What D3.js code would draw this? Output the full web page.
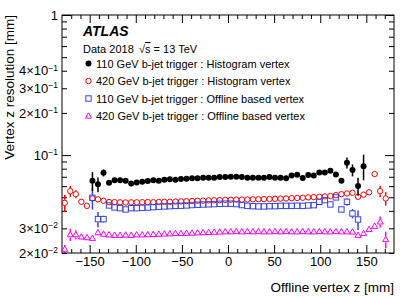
<!DOCTYPE html>
<html>
<head>
<meta charset="utf-8">
<script src="https://cdn.jsdelivr.net/npm/d3@7"></script>
<style>
  body { margin: 0; background: #fff; }
  text { font-family: "Liberation Sans", Arial, sans-serif; fill: #000; }
</style>
</head>
<body>
<script>
// bin centres of offline vertex z [mm]
const zBins = [-177,-171,-165,-159,-153,-147,-141,-135,-129,-123,-117,-111,-105,-99,-93,-87,-81,-75,-69,-63,
  -57,-51,-45,-39,-33,-27,-21,-15,-9,-3,3,9,15,21,27,33,39,45,51,57,
  63,69,75,81,87,93,99,105,111,117,123,129,135,141,147,153,159,165,171,177];

// 110 GeV b-jet trigger : Histogram vertex
const hist110 = [null,null,null,null,null, 0.0655,0.0618,0.0747,0.0634,0.0660,
  0.0660,0.0655,0.0628,0.0638,0.0645, 0.0652,0.0660,0.0655,0.0666,0.0671,
  0.0666,0.0674,0.0678,0.0682,0.0682, 0.0689,0.0689,0.0689,0.0697,0.0697,
  0.0700,0.0700,0.0697,0.0689,0.0689, 0.0689,0.0689,0.0697,0.0689,0.0689,
  0.0682,0.0716,0.0723,0.0685,0.0720, 0.0716,0.0752,0.0752,0.0772,0.0728,
  0.0655,0.0881,0.0781,0.0601,0.0834, null,null,null,null,null];
const hist110Err = [null,null,null,null,null, 0.010,0.0075,0.0043,0.002,0.0012,
  0.0012,0.0012,0.0012,0.0012,0.0012, 0.0012,0.0012,0.0012,0.0012,0.0012,
  0.0012,0.0012,0.0012,0.0012,0.0012, 0.0012,0.0012,0.0012,0.0012,0.0012,
  0.0012,0.0012,0.0012,0.0012,0.0012, 0.0012,0.0012,0.0012,0.0012,0.0012,
  0.0012,0.0015,0.0015,0.0015,0.0015, 0.0015,0.002,0.002,0.002,0.002,
  0.002,0.008,0.0077,0.0088,0.0173, null,null,null,null,null];

// 420 GeV b-jet trigger : Histogram vertex
const hist420 = [0.0456,0.0553,0.0526,0.0464,0.0434, 0.0490,0.0483,0.0472,0.0462,0.0462,
  0.0460,0.0459,0.0460,0.0460,0.0461, 0.0462,0.0461,0.0463,0.0464,0.0464,
  0.0466,0.0467,0.0469,0.0470,0.0472, 0.0473,0.0475,0.0476,0.0477,0.0479,
  0.0480,0.0481,0.0481,0.0482,0.0483, 0.0484,0.0485,0.0486,0.0487,0.0489,
  0.0490,0.0492,0.0494,0.0496,0.0499, 0.0501,0.0504,0.0507,0.0510,0.0518,
  0.0526,0.0532,0.0538,0.0504,0.0522, 0.0542,0.0732,0.0553,0.0490,null];
const hist420Err = [0.0063,0.005,0.0035,0.0015,0.0015, 0.001,0.001,0.001,0.001,0.001,
  0.001,0.001,0.001,0.001,0.001, 0.001,0.001,0.001,0.001,0.001,
  0.001,0.001,0.001,0.001,0.001, 0.001,0.001,0.001,0.001,0.001,
  0.001,0.001,0.001,0.001,0.001, 0.001,0.001,0.001,0.001,0.001,
  0.001,0.001,0.001,0.001,0.001, 0.001,0.001,0.001,0.001,0.001,
  0.001,0.0012,0.0012,0.0015,0.0015, 0.0015,0.002,0.005,0.0054,null];

// 110 GeV b-jet trigger : Offline based vertex
const offl110 = [null,null,null,null,null, 0.0495,0.0349,0.0349,0.0437,0.0423,
  0.0418,0.0409,0.0418,0.0418,0.0420, 0.0422,0.0425,0.0428,0.0430,0.0432,
  0.0434,0.0435,0.0437,0.0440,0.0442, 0.0444,0.0445,0.0447,0.0449,0.0450,
  0.0450,0.0447,0.0440,0.0434,0.0432, 0.0430,0.0430,0.0432,0.0432,0.0434,
  0.0434,0.0434,0.0435,0.0434,0.0437, 0.0439,0.0464,0.0477,0.0444,0.0499,
  0.0409,0.0464,0.0383,0.0347, null,null,null,null,null,null];
const offl110Err = [null,null,null,null,null, 0.0087,0.0043,0.002,0.001,0.001,
  0.001,0.001,0.001,0.001,0.001, 0.001,0.001,0.001,0.001,0.001,
  0.001,0.001,0.001,0.001,0.001, 0.001,0.001,0.001,0.001,0.001,
  0.001,0.001,0.001,0.001,0.001, 0.001,0.001,0.001,0.001,0.001,
  0.001,0.001,0.001,0.001,0.001, 0.001,0.0012,0.0012,0.0015,0.002,
  0.002,0.003,0.003,0.0055, null,null,null,null,null,null];

// 420 GeV b-jet trigger : Offline based vertex
const offl420 = [0.0213,0.0271,0.0271,0.0261,0.0258, 0.0255,0.0280,0.0273,0.0270,0.0268,
  0.0268,0.0269,0.0268,0.0270,0.0270, 0.0271,0.0272,0.0273,0.0274,0.0275,
  0.0276,0.0276,0.0277,0.0278,0.0279, 0.0280,0.0281,0.0282,0.0283,0.0284,
  0.0284,0.0285,0.0284,0.0285,0.0284, 0.0285,0.0284,0.0284,0.0285,0.0284,
  0.0285,0.0284,0.0284,0.0285,0.0284, 0.0284,0.0285,0.0284,0.0284,0.0285,
  0.0284,0.0284,0.0283,0.0268,0.0276, 0.0295,0.0311,0.0334,0.0250,null];
const offl420Err = [0.0015,0.0027,0.002,0.0012,0.0008, 0.0008,0.0008,0.0008,0.0008,0.0008,
  0.0008,0.0008,0.0008,0.0008,0.0008, 0.0008,0.0008,0.0008,0.0008,0.0008,
  0.0008,0.0008,0.0008,0.0008,0.0008, 0.0008,0.0008,0.0008,0.0008,0.0008,
  0.0008,0.0008,0.0008,0.0008,0.0008, 0.0008,0.0008,0.0008,0.0008,0.0008,
  0.0008,0.0008,0.0008,0.0008,0.0008, 0.0008,0.0008,0.0008,0.0008,0.0008,
  0.0008,0.0008,0.0008,0.0008,0.0008, 0.0008,0.0015,0.003,0.0034,null];

const legendLabels = [
  "110 GeV b-jet trigger : Histogram vertex",
  "420 GeV b-jet trigger : Histogram vertex",
  "110 GeV b-jet trigger : Offline based vertex",
  "420 GeV b-jet trigger : Offline based vertex"
];

const xMajor = [-150, -100, -50, 0, 50, 100, 150];
const xMinor = [-170,-160,-140,-130,-120,-110,-90,-80,-70,-60,-40,-30,-20,-10,10,20,30,40,60,70,80,90,110,120,130,140,160,170];
const yMajor = [1, 0.1];
const yMinor = [0.9,0.8,0.7,0.6,0.5,0.4,0.3,0.2,0.09,0.08,0.07,0.06,0.05,0.04,0.03,0.02];
const yLabelled = [1, 0.4, 0.3, 0.2, 0.1, 0.03, 0.02];

const W = 415, H = 298;
const L = 62, R = 394, T = 15, B = 253;

const svg = d3.select("body").append("svg")
  .attr("width", W).attr("height", H);

const x = d3.scaleLinear().domain([-180, 180]).range([L, R]);
const y = d3.scaleLog().domain([0.02, 1]).range([B, T]);

// axes (ticks pointing inward, ROOT style)
function styleAxis(g) {
  g.select(".domain").remove();
  g.selectAll(".tick line").attr("stroke", "#000");
  g.selectAll("text").attr("font-size", 13).attr("fill", "#000")
    .attr("font-family", "Liberation Sans, Arial, sans-serif");
}

svg.append("g").attr("transform", `translate(0,${B})`)
  .call(d3.axisBottom(x).tickValues(xMajor).tickSizeInner(-8).tickSizeOuter(0).tickPadding(4))
  .call(styleAxis);
svg.append("g").attr("transform", `translate(0,${B})`)
  .call(d3.axisBottom(x).tickValues(xMinor).tickSizeInner(-4).tickSizeOuter(0).tickFormat(""))
  .call(styleAxis);
svg.append("g").attr("transform", `translate(0,${T})`)
  .call(d3.axisTop(x).tickValues(xMajor).tickSizeInner(-8).tickSizeOuter(0).tickFormat(""))
  .call(styleAxis);
svg.append("g").attr("transform", `translate(0,${T})`)
  .call(d3.axisTop(x).tickValues(xMinor).tickSizeInner(-4).tickSizeOuter(0).tickFormat(""))
  .call(styleAxis);

svg.append("g").attr("transform", `translate(${L},0)`)
  .call(d3.axisLeft(y).tickValues(yMajor).tickSizeInner(-9).tickSizeOuter(0).tickFormat(""))
  .call(styleAxis);
svg.append("g").attr("transform", `translate(${L},0)`)
  .call(d3.axisLeft(y).tickValues(yMinor).tickSizeInner(-5).tickSizeOuter(0).tickFormat(""))
  .call(styleAxis);
svg.append("g").attr("transform", `translate(${R},0)`)
  .call(d3.axisRight(y).tickValues(yMajor).tickSizeInner(-9).tickSizeOuter(0).tickFormat(""))
  .call(styleAxis);
svg.append("g").attr("transform", `translate(${R},0)`)
  .call(d3.axisRight(y).tickValues(yMinor).tickSizeInner(-5).tickSizeOuter(0).tickFormat(""))
  .call(styleAxis);

// y labels with superscript exponents
const yLab = svg.append("g").attr("transform", `translate(${L},0)`)
  .call(d3.axisLeft(y).tickValues(yLabelled).tickSize(0).tickPadding(4).tickFormat(""))
  .call(styleAxis);
yLab.selectAll(".tick text").each(function(d) {
  const t = d3.select(this);
  const e = Math.floor(Math.log10(d) + 1e-9);
  const m = Math.round(d / Math.pow(10, e));
  t.text(null);
  if (e === 0) { t.append("tspan").text("1"); return; }
  t.append("tspan").text(m === 1 ? "10" : m + "\u00d710");
  t.append("tspan").attr("font-size", 8.5).attr("dy", "-0.55em").text("\u2212" + (-e));
});

// frame
svg.append("rect").attr("x", L).attr("y", T).attr("width", R - L).attr("height", B - T)
  .attr("fill", "none").attr("stroke", "#000").attr("stroke-width", 1);

// axis titles
svg.append("text").attr("x", R).attr("y", 292).attr("text-anchor", "end")
  .attr("font-size", 13.5).text("Offline vertex z [mm]");
svg.append("text").attr("transform", `translate(14,${T}) rotate(-90)`)
  .attr("text-anchor", "end").attr("font-size", 13.5).text("Vertex z resolution [mm]");

// markers
const markerDefs = [
  { vals: hist420, err: hist420Err, color: "#ff0000", shape: "ocircle", gap: 3 },
  { vals: offl110, err: offl110Err, color: "#3344ee", shape: "osquare", gap: 3 },
  { vals: offl420, err: offl420Err, color: "#ff00ff", shape: "otriangle", gap: 3 },
  { vals: hist110, err: hist110Err, color: "#000000", shape: "fcircle", gap: 0 }
];

function drawMarker(g, shape, color, cx, cy) {
  if (shape === "fcircle") {
    g.append("circle").attr("cx", cx).attr("cy", cy).attr("r", 3).attr("fill", color);
  } else if (shape === "ocircle") {
    g.append("circle").attr("cx", cx).attr("cy", cy).attr("r", 2.7)
      .attr("fill", "none").attr("stroke", color).attr("stroke-width", 1);
  } else if (shape === "osquare") {
    g.append("rect").attr("x", cx - 2.7).attr("y", cy - 2.7).attr("width", 5.4).attr("height", 5.4)
      .attr("fill", "none").attr("stroke", color).attr("stroke-width", 1);
  } else {
    g.append("path").attr("d", `M${cx},${cy - 3.2}L${cx + 3},${cy + 2.2}L${cx - 3},${cy + 2.2}Z`)
      .attr("fill", "none").attr("stroke", color).attr("stroke-width", 1);
  }
}

const plot = svg.append("g");
markerDefs.forEach(s => {
  const g = plot.append("g");
  const pts = zBins.map((z, i) => ({ z, v: s.vals[i], e: s.err[i] })).filter(p => p.v != null);
  pts.forEach(p => {
    const cx = x(p.z), cy = y(p.v);
    const y1 = y(p.v + p.e), y2 = y(Math.max(p.v - p.e, 0.0201));
    if (cy - y1 > s.gap) g.append("line").attr("x1", cx).attr("x2", cx).attr("y1", y1).attr("y2", cy - s.gap)
      .attr("stroke", s.color).attr("stroke-width", 1.5);
    if (y2 - cy > s.gap) g.append("line").attr("x1", cx).attr("x2", cx).attr("y1", cy + s.gap).attr("y2", y2)
      .attr("stroke", s.color).attr("stroke-width", 1.5);
    drawMarker(g, s.shape, s.color, cx, cy);
  });
});

// ATLAS label and legend
svg.append("text").attr("x", 83).attr("y", 36).attr("font-size", 14)
  .attr("font-weight", "bold").attr("font-style", "italic").text("ATLAS");
svg.append("text").attr("x", 83).attr("y", 53).attr("font-size", 11).text("Data 2018");
const info = svg.append("text").attr("x", 139).attr("y", 53).attr("font-size", 11);
info.append("tspan").text("\u221a");
info.append("tspan").attr("text-decoration", "overline").text("s");
info.append("tspan").text(" = 13 TeV");

const legendOrder = [3, 0, 1, 2];
legendLabels.forEach((lab, i) => {
  const s = markerDefs[legendOrder[i]];
  const cy = 63.5 + i * 17.5;
  drawMarker(svg, s.shape, s.color, 88.5, cy);
  svg.append("text").attr("x", 96).attr("y", cy + 4).attr("font-size", 11).text(lab);
});
</script>
</body>
</html>
